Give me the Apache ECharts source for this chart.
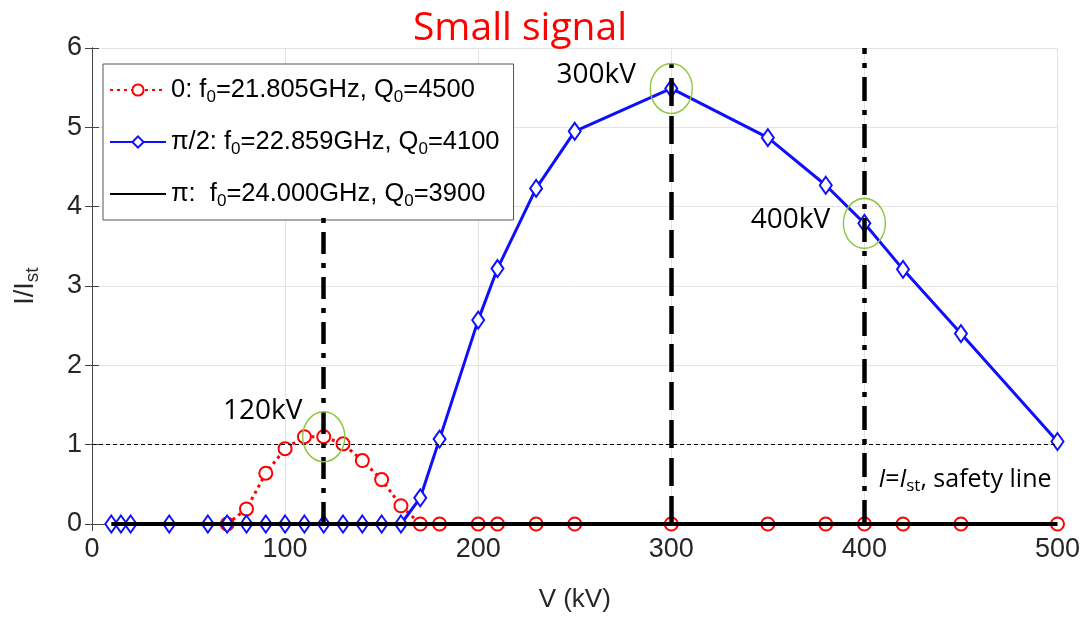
<!DOCTYPE html>
<html><head><meta charset="utf-8">
<script src="https://cdn.jsdelivr.net/npm/echarts@6/dist/echarts.min.js"></script>
<style>html,body{margin:0;padding:0;background:#fff}#c{width:1083px;height:622px}</style>
</head><body><div id="c"></div>
<script>
// pi/2 mode (blue)
const halfV = [10,15,20,40,60,70,80,90,100,110,120,130,140,150,160,170,180,200,210,230,250,300,350,380,400,420,450,500];
const halfI = [0,0,0,0,0,0,0,0,0,0,0,0,0,0,0,0.33,1.07,2.57,3.22,4.23,4.95,5.49,4.87,4.27,3.79,3.21,2.40,1.04];
// 0 mode (red)
const zeroV = [70,80,90,100,110,120,130,140,150,160,170,180,200,210,230,250,300,350,380,400,420,450,500];
const zeroI = [0,0.19,0.64,0.95,1.10,1.10,1.01,0.80,0.56,0.23,0,0,0,0,0,0,0,0,0,0,0,0,0];
// pi mode (black)
const piV = [10,500];
const piI = [0,0];
const xTicks = {min:0, max:500, interval:100};
const yTicks = {min:0, max:6, interval:1};
const legendNames = {
  zero: '0: f{s|0}=21.805GHz, Q{s|0}=4500',
  half: 'π/2: f{s|0}=22.859GHz, Q{s|0}=4100',
  pi: 'π:  f{s|0}=24.000GHz, Q{s|0}=3900'
};
const marks = [
  {v:120, i:1.10, label:'120kV', off:[-61,-26], lineTop:3.9, dash:[22,9,5,9]},
  {v:300, i:5.49, label:'300kV', off:[-75,-13], lineTop:5.8, dash:[28,10]},
  {v:400, i:3.79, label:'400kV', off:[-74,-3], lineTop:6, dash:[24,9,5,9]}
];
const safety = {v:400, i:0.55, level:1};

const pair = (a,b)=>a.map((x,k)=>[x,b[k]]);
const F = 'Liberation Sans';
const A = 'Open Sans';
const chart = echarts.init(document.getElementById('c'), null, {renderer:'canvas'});
chart.setOption({
  animation:false,
  backgroundColor:'#fff',
  title:{text:'Small signal', left:515, top:4, textAlign:'center',
    textStyle:{color:'#ff0000', fontFamily:A, fontSize:39, fontWeight:'normal'}},
  grid:{left:92, right:25, top:48, bottom:98},
  legend:{
    orient:'vertical', left:103, top:64, padding:[10,14,10,6], itemGap:20,
    itemWidth:56, itemHeight:14,
    backgroundColor:'#fff', borderColor:'#555', borderWidth:1,
    data:['zero','half',{name:'pi', itemStyle:{opacity:0}}],
    formatter: n => legendNames[n],
    textStyle:{fontFamily:F, fontSize:25.5, color:'#000', lineHeight:32,
      rich:{s:{fontFamily:F, fontSize:17, color:'#000', padding:[14,0,0,0]}}}
  },
  xAxis:[{
    type:'value', ...xTicks,
    name:'V (kV)', nameLocation:'middle', nameGap:63,
    nameTextStyle:{fontFamily:F, fontSize:26, color:'#262626'},
    axisLine:{show:true, onZero:false, lineStyle:{color:'#444', width:1}},
    axisTick:{show:true, inside:true, length:7, lineStyle:{color:'#444'}},
    axisLabel:{fontFamily:F, fontSize:27, color:'#262626', margin:12},
    splitLine:{show:true, lineStyle:{color:'#e4e4e4', width:1}}
  },{
    type:'value', position:'top', ...xTicks,
    axisLine:{show:true, lineStyle:{color:'#444', width:1}},
    axisTick:{show:true, inside:true, length:7, lineStyle:{color:'#444'}},
    axisLabel:{show:false}, splitLine:{show:false}
  }],
  yAxis:[{
    type:'value', ...yTicks,
    name:'I/I{s|st}', nameLocation:'middle', nameGap:50, nameRotate:90,
    nameTextStyle:{fontFamily:F, fontSize:27, color:'#262626',
      rich:{s:{fontFamily:F, fontSize:19, color:'#262626', padding:[14,0,0,0]}}},
    axisLine:{show:true, onZero:false, lineStyle:{color:'#444', width:1}},
    axisTick:{show:true, inside:true, length:7, lineStyle:{color:'#444'}},
    axisLabel:{fontFamily:F, fontSize:27, color:'#262626', margin:10},
    splitLine:{show:true, lineStyle:{color:'#e4e4e4', width:1}}
  },{
    type:'value', position:'right', ...yTicks,
    axisLine:{show:true, lineStyle:{color:'#444', width:1}},
    axisTick:{show:true, inside:true, length:7, lineStyle:{color:'#444'}},
    axisLabel:{show:false}, splitLine:{show:false}
  }],
  series:[
    {
      name:'zero', type:'line', data:pair(zeroV, zeroI), z:3,
      symbol:'emptyCircle', symbolSize:13,
      itemStyle:{color:'#ff0000', borderColor:'#ff0000', borderWidth:3},
      lineStyle:{color:'#ff0000', width:3, type:[3,4]},
      markLine:{silent:true, symbol:'none', label:{show:false},
        lineStyle:{type:[4,3], color:'#000', width:1},
        data:[{yAxis:safety.level}]}
    },
    {
      name:'half', type:'line', data:pair(halfV, halfI), z:4,
      symbol:'emptyDiamond', symbolSize:[12,17],
      itemStyle:{color:'#0f0fff', borderColor:'#0f0fff', borderWidth:2.5},
      lineStyle:{color:'#0f0fff', width:3},
      markPoint:{
        data: marks.map(m=>({coord:[m.v,m.i], symbol:'circle', symbolSize:[42,50],
          itemStyle:{color:'rgba(0,0,0,0)', borderColor:'#8cc63e', borderWidth:1.5},
          label:{show:false}})).concat(
          marks.map(m=>({coord:[m.v,m.i], symbol:'circle', symbolSize:0,
            label:{show:true, formatter:m.label, offset:m.off, position:'inside',
              fontFamily:A, fontSize:28, color:'#000'}}))).concat([
          {coord:[safety.v, safety.i], symbol:'circle', symbolSize:0,
            label:{show:true, position:'right', distance:14,
              formatter:'{i|I}={i|I}{s|st}, safety line',
              fontFamily:A, fontSize:25, color:'#000',
              rich:{i:{fontFamily:A, fontSize:25, fontStyle:'italic', color:'#000'},
                    s:{fontFamily:A, fontSize:17, color:'#000', padding:[12,0,0,0]}}}}
        ])
      }
    },
    {
      name:'pi', type:'line', data:pair(piV, piI), z:5,
      symbol:'none',
      lineStyle:{color:'#000', width:4},
      itemStyle:{color:'#000'},
      markLine:{silent:true, symbol:'none', label:{show:false},
        data: marks.map(m=>[
          {coord:[m.v,0], lineStyle:{color:'#000', width:4.5, type:m.dash}},
          {coord:[m.v,m.lineTop]}
        ])}
    }
  ]
});
</script></body></html>
